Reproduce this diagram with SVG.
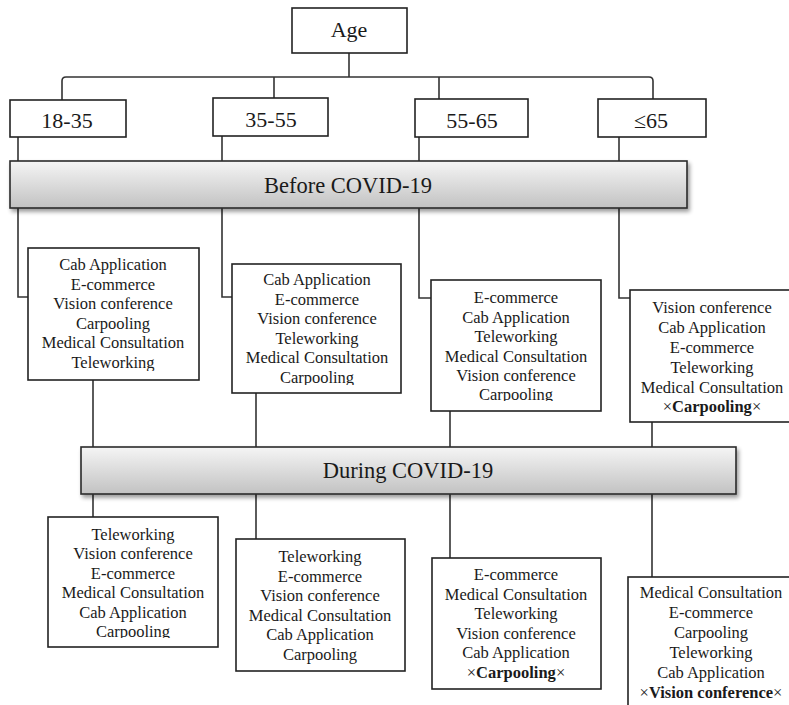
<svg xmlns="http://www.w3.org/2000/svg" width="789" height="705" viewBox="0 0 789 705">
  <defs>
    <style>
      .box { fill: #ffffff; stroke: #222; stroke-width: 1.6; }
      .lbl { font-family: "Liberation Serif", "Times New Roman", serif; font-size: 22px; fill: #1a1a1a; text-anchor: middle; }
      .bartxt { font-family: "Liberation Serif", "Times New Roman", serif; font-size: 22.5px; fill: #1a1a1a; text-anchor: middle; }
      .item { font-family: "Liberation Serif", "Times New Roman", serif; font-size: 16.5px; fill: #1a1a1a; text-anchor: middle; }
      .bold { font-weight: bold; }
      .wire { fill: none; stroke: #333; stroke-width: 1.6; }
      .bar { fill: url(#barFill); stroke: #2a2a2a; stroke-width: 1.6; filter: url(#barShadow); }
    </style>
    <linearGradient id="barFill" x1="0" y1="0" x2="0" y2="1">
      <stop offset="0" stop-color="#f5f5f5"/>
      <stop offset="1" stop-color="#c2c2c2"/>
    </linearGradient>
    <filter id="barShadow" x="-5%" y="-30%" width="110%" height="170%">
      <feGaussianBlur in="SourceAlpha" stdDeviation="2"/>
      <feOffset dx="2" dy="3" result="off"/>
      <feComponentTransfer><feFuncA type="linear" slope="0.4"/></feComponentTransfer>
      <feMerge><feMergeNode/><feMergeNode in="SourceGraphic"/></feMerge>
    </filter>
    <clipPath id="clipB1"><rect x="28" y="248" width="171" height="123"/></clipPath>
    <clipPath id="clipB2"><rect x="232" y="264" width="169" height="121"/></clipPath>
    <clipPath id="clipB3"><rect x="431" y="280" width="170" height="121"/></clipPath>
    <clipPath id="clipD1"><rect x="48" y="517" width="170" height="121"/></clipPath>
  </defs>

  <rect width="789" height="705" fill="#ffffff"/>

  <!-- connectors -->
  <g id="connectors">
    <path class="wire" d="M349,53 V77"/>
    <path class="wire" d="M62,100 V81 Q62,77 66,77 H649 Q653,77 653,81 V99"/>
    <path class="wire" d="M274,77 V98"/>
    <path class="wire" d="M439,77 V99"/>
    <!-- age groups to Before bar -->
    <path class="wire" d="M18,137 V161"/>
    <path class="wire" d="M222,136 V161"/>
    <path class="wire" d="M419,137 V161"/>
    <path class="wire" d="M619,137 V161"/>
    <!-- Before bar to lists -->
    <path class="wire" d="M18,208 V297 H28"/>
    <path class="wire" d="M222,208 V297 H232"/>
    <path class="wire" d="M419,208 V298 H431"/>
    <path class="wire" d="M619,208 V298 H630"/>
    <!-- lists to During bar -->
    <path class="wire" d="M93,380 V447"/>
    <path class="wire" d="M256,393 V447"/>
    <path class="wire" d="M450,411 V447"/>
    <path class="wire" d="M652,422 V447"/>
    <!-- During bar to lists -->
    <path class="wire" d="M93,494 V517"/>
    <path class="wire" d="M256,494 V539"/>
    <path class="wire" d="M450,494 V558"/>
    <path class="wire" d="M652,494 V577"/>
  </g>

  <g id="age">
    <rect class="box" x="292" y="8" width="115" height="45"/>
    <text class="lbl" x="349" y="37">Age</text>
  </g>

  <g id="g18-35">
    <rect class="box" x="10" y="100" width="116" height="37"/>
    <text class="lbl" x="67" y="128">18-35</text>
  </g>
  <g id="g35-55">
    <rect class="box" x="213" y="98" width="115" height="38"/>
    <text class="lbl" x="271" y="127">35-55</text>
  </g>
  <g id="g55-65">
    <rect class="box" x="415" y="99" width="113" height="38"/>
    <text class="lbl" x="472" y="128">55-65</text>
  </g>
  <g id="g65">
    <rect class="box" x="598" y="99" width="108" height="38"/>
    <text class="lbl" x="651" y="128">≤65</text>
  </g>

  <g id="before">
    <rect class="bar" x="10" y="161" width="677" height="47"/>
    <text class="bartxt" x="348" y="193">Before COVID-19</text>
  </g>

  <g id="before-18-35">
    <rect class="box" x="28" y="248" width="171" height="132"/>
    <g clip-path="url(#clipB1)">
      <text class="item" x="113" y="270">Cab Application</text>
      <text class="item" x="113" y="289.6">E-commerce</text>
      <text class="item" x="113" y="309.2">Vision conference</text>
      <text class="item" x="113" y="328.8">Carpooling</text>
      <text class="item" x="113" y="348.4">Medical Consultation</text>
      <text class="item" x="113" y="368">Teleworking</text>
    </g>
  </g>

  <g id="before-35-55">
    <rect class="box" x="232" y="264" width="169" height="129"/>
    <g clip-path="url(#clipB2)">
      <text class="item" x="317" y="285">Cab Application</text>
      <text class="item" x="317" y="304.6">E-commerce</text>
      <text class="item" x="317" y="324.2">Vision conference</text>
      <text class="item" x="317" y="343.8">Teleworking</text>
      <text class="item" x="317" y="363.4">Medical Consultation</text>
      <text class="item" x="317" y="383">Carpooling</text>
    </g>
  </g>

  <g id="before-55-65">
    <rect class="box" x="431" y="280" width="170" height="131"/>
    <g clip-path="url(#clipB3)">
      <text class="item" x="516" y="303">E-commerce</text>
      <text class="item" x="516" y="322.5">Cab Application</text>
      <text class="item" x="516" y="342">Teleworking</text>
      <text class="item" x="516" y="361.5">Medical Consultation</text>
      <text class="item" x="516" y="381">Vision conference</text>
      <text class="item" x="516" y="400">Carpooling</text>
    </g>
  </g>

  <g id="before-65">
    <rect class="box" x="630" y="290" width="170" height="132"/>
    <text class="item" x="712" y="313">Vision conference</text>
    <text class="item" x="712" y="333">Cab Application</text>
    <text class="item" x="712" y="353">E-commerce</text>
    <text class="item" x="712" y="373">Teleworking</text>
    <text class="item" x="712" y="393">Medical Consultation</text>
    <text class="item" x="712" y="412">×<tspan class="bold">Carpooling</tspan>×</text>
  </g>

  <g id="during">
    <rect class="bar" x="81" y="447" width="655" height="47"/>
    <text class="bartxt" x="408" y="478">During COVID-19</text>
  </g>

  <g id="during-18-35">
    <rect class="box" x="48" y="517" width="170" height="130"/>
    <g clip-path="url(#clipD1)">
      <text class="item" x="133" y="540">Teleworking</text>
      <text class="item" x="133" y="559.4">Vision conference</text>
      <text class="item" x="133" y="578.8">E-commerce</text>
      <text class="item" x="133" y="598.2">Medical Consultation</text>
      <text class="item" x="133" y="617.6">Cab Application</text>
      <text class="item" x="133" y="637">Carpooling</text>
    </g>
  </g>

  <g id="during-35-55">
    <rect class="box" x="236" y="539" width="169" height="132"/>
    <text class="item" x="320" y="562">Teleworking</text>
    <text class="item" x="320" y="581.6">E-commerce</text>
    <text class="item" x="320" y="601.2">Vision conference</text>
    <text class="item" x="320" y="620.8">Medical Consultation</text>
    <text class="item" x="320" y="640.4">Cab Application</text>
    <text class="item" x="320" y="660">Carpooling</text>
  </g>

  <g id="during-55-65">
    <rect class="box" x="432" y="558" width="169" height="131"/>
    <text class="item" x="516" y="580">E-commerce</text>
    <text class="item" x="516" y="599.6">Medical Consultation</text>
    <text class="item" x="516" y="619.2">Teleworking</text>
    <text class="item" x="516" y="638.8">Vision conference</text>
    <text class="item" x="516" y="658.4">Cab Application</text>
    <text class="item" x="516" y="678">×<tspan class="bold">Carpooling</tspan>×</text>
  </g>

  <g id="during-65">
    <rect class="box" x="628" y="577" width="172" height="140"/>
    <text class="item" x="711" y="598">Medical Consultation</text>
    <text class="item" x="711" y="618">E-commerce</text>
    <text class="item" x="711" y="638">Carpooling</text>
    <text class="item" x="711" y="658">Teleworking</text>
    <text class="item" x="711" y="678">Cab Application</text>
    <text class="item" x="711" y="698">×<tspan class="bold">Vision conference</tspan>×</text>
  </g>
</svg>
